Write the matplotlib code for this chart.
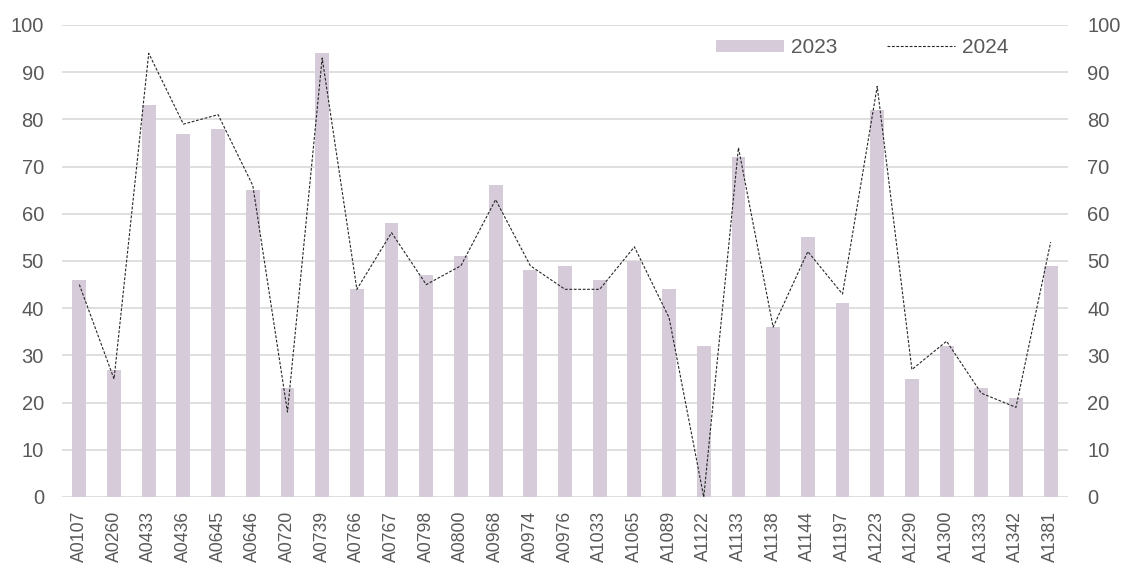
import matplotlib
matplotlib.use("Agg")
import matplotlib.pyplot as plt
import numpy as np

categories = ["A0107", "A0260", "A0433", "A0436", "A0645", "A0646", "A0720", "A0739",
              "A0766", "A0767", "A0798", "A0800", "A0968", "A0974", "A0976", "A1033",
              "A1065", "A1089", "A1122", "A1133", "A1138", "A1144", "A1197", "A1223",
              "A1290", "A1300", "A1333", "A1342", "A1381"]
values_2023 = [46, 27, 83, 77, 78, 65, 23, 94, 44, 58, 47, 51, 66, 48, 49, 46, 50, 44,
               32, 72, 36, 55, 41, 82, 25, 32, 23, 21, 49]
values_2024 = [45, 25, 94, 79, 81, 66, 18, 93, 44, 56, 45, 49, 63, 49, 44, 44, 53, 38,
               0, 74, 36, 52, 43, 87, 27, 33, 22, 19, 54]
yticks = [0, 10, 20, 30, 40, 50, 60, 70, 80, 90, 100]

plt.rcParams['font.family'] = ['Liberation Sans', 'DejaVu Sans']
text_color = "#595959"

fig = plt.figure(figsize=(11.26, 5.65), dpi=100)
ax = fig.add_axes([62/1126, 1 - 497/565, (1068-62)/1126, (497-25)/565])
x = np.arange(len(categories))
bars = ax.bar(x, values_2023, width=0.4, color="#d5cbd9", label="2023", zorder=2)
ax.set_xlim(-0.5, len(categories) - 0.5)
ax.set_ylim(0, 100)
ax.set_yticks(yticks)
ax.grid(axis='y', color="#d9d9d9", linewidth=1.2, zorder=0)
ax.set_axisbelow(True)
for s in ax.spines.values():
    s.set_visible(False)
ax.tick_params(axis='both', length=0, colors=text_color)
ax.tick_params(axis='y', pad=13, labelsize=14.5)
ax.tick_params(axis='x', pad=10)
ax.set_xticks(x)
ax.set_xticklabels(categories, rotation=90, fontsize=12.7, color=text_color)

ax2 = ax.twinx()
ax2.set_ylim(0, 100)
ax2.set_yticks(yticks)
line, = ax2.plot(x, values_2024, color="#262626", linewidth=0.8,
                 linestyle=(0, (2.5, 1.5)), label="2024", zorder=3)
for s in ax2.spines.values():
    s.set_visible(False)
ax2.tick_params(axis='y', length=0, colors=text_color, labelsize=14.5, pad=14)

leg = fig.legend([bars, line], ["2023", "2024"], loc="center left",
                 bbox_to_anchor=(716/1126, 1 - 47.6/565), bbox_transform=fig.transFigure,
                 ncol=2, frameon=False, fontsize=15, borderpad=0, borderaxespad=0,
                 handlelength=3.27, handleheight=0.51, columnspacing=2.36, handletextpad=0.34)
for t in leg.get_texts():
    t.set_color(text_color)

fig.savefig("out.png", dpi=100)
